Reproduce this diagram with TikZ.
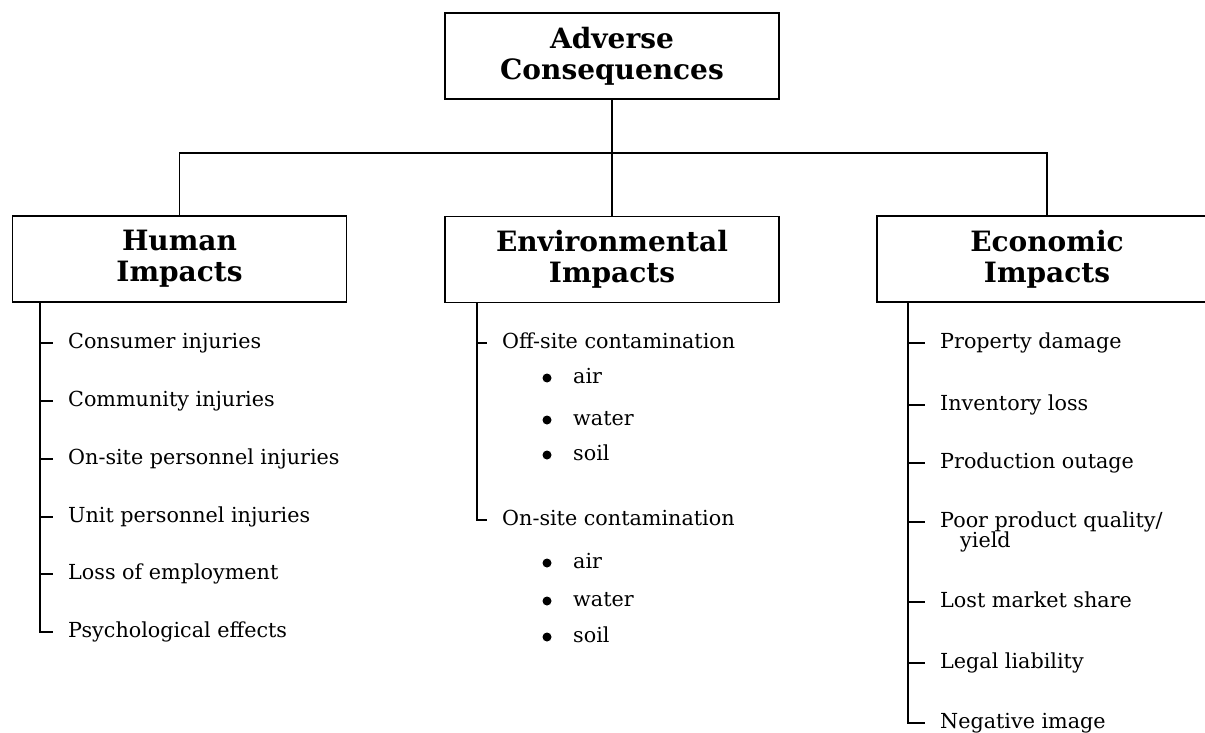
\documentclass[tikz,border=0pt]{standalone}
\usepackage{fontspec}
\setmainfont{DejaVu Serif}
\tikzset{
  box/.style={draw, line width=1.3pt, minimum width=334pt, minimum height=86pt, align=center,
    font=\fontsize{28}{31}\selectfont\bfseries, inner sep=0pt},
  item/.style={anchor=west, inner sep=0pt, text height=10.5pt, text depth=0pt,
    font=\fontsize{20.7}{21}\selectfont},
  dot/.style={circle, fill, inner sep=0pt, minimum size=9pt},
  conn/.style={line width=1.3pt},
  leaf/.style={conn, shorten >=15pt}
}
\begin{document}
\begin{tikzpicture}[x=1pt, y=-1pt]
\clip (0,0) rectangle (1205,733);
% boxes
\node[box] (top) at (612,56) {Adverse\\Consequences};
\node[box] (human) at (179.5,259) {Human\\Impacts};
\node[box] (env) at (612,259.5) {Environmental\\Impacts};
\node[box, minimum width=340pt] (econ) at (1047,259) {Economic\\Impacts};
% bus
\coordinate (bus) at (612,153);
\draw[conn] (top.south) -- (bus);
\draw[conn] (human.north) |- (bus) -| (econ.north);
\draw[conn] (bus) -- (env.north);
% human items
\node[item] (h1) at (68,343) {Consumer injuries};
\node[item] (h2) at (68,401) {Community injuries};
\node[item] (h3) at (68,459) {On-site personnel injuries};
\node[item] (h4) at (68,517) {Unit personnel injuries};
\node[item] (h5) at (68,574) {Loss of employment};
\node[item] (h6) at (68,632) {Psychological effects};
\coordinate (hv) at (40,302);
\foreach \i in {1,...,5} \draw[leaf] (hv |- h\i.west) -- (h\i.west);
\draw[leaf] (hv) |- (h6.west);
% environmental items
\node[item] (e1) at (502,343) {Off-site contamination};
\node[dot] (d1) at (547,378) {};
\node[item] (e1a) at (573,378) {air};
\node[dot] (d2) at (547,420) {};
\node[item] (e1b) at (573,420) {water};
\node[dot] (d3) at (547,455) {};
\node[item] (e1c) at (573,455) {soil};
\node[item] (e2) at (502,520) {On-site contamination};
\node[dot] (d4) at (547,563) {};
\node[item] (e2a) at (573,563) {air};
\node[dot] (d5) at (547,601) {};
\node[item] (e2b) at (573,601) {water};
\node[dot] (d6) at (547,637) {};
\node[item] (e2c) at (573,637) {soil};
\coordinate (ev) at (477,302);
\draw[leaf] (ev |- e1.west) -- (e1.west);
\draw[leaf] (ev) |- (e2.west);
% economic items
\node[item] (c1) at (940,343) {Property damage};
\node[item] (c2) at (940,405) {Inventory loss};
\node[item] (c3) at (940,463) {Production outage};
\node[item] (c4) at (940,522) {Poor product quality/};
\node[item] (c4b) at (960,542) {yield};
\node[item] (c5) at (940,602) {Lost market share};
\node[item] (c6) at (940,663) {Legal liability};
\node[item] (c7) at (940,723) {Negative image};
\coordinate (cv) at (908,302);
\foreach \i in {1,...,6} \draw[leaf] (cv |- c\i.west) -- (c\i.west);
\draw[leaf] (cv) |- (c7.west);
\end{tikzpicture}
\end{document}
